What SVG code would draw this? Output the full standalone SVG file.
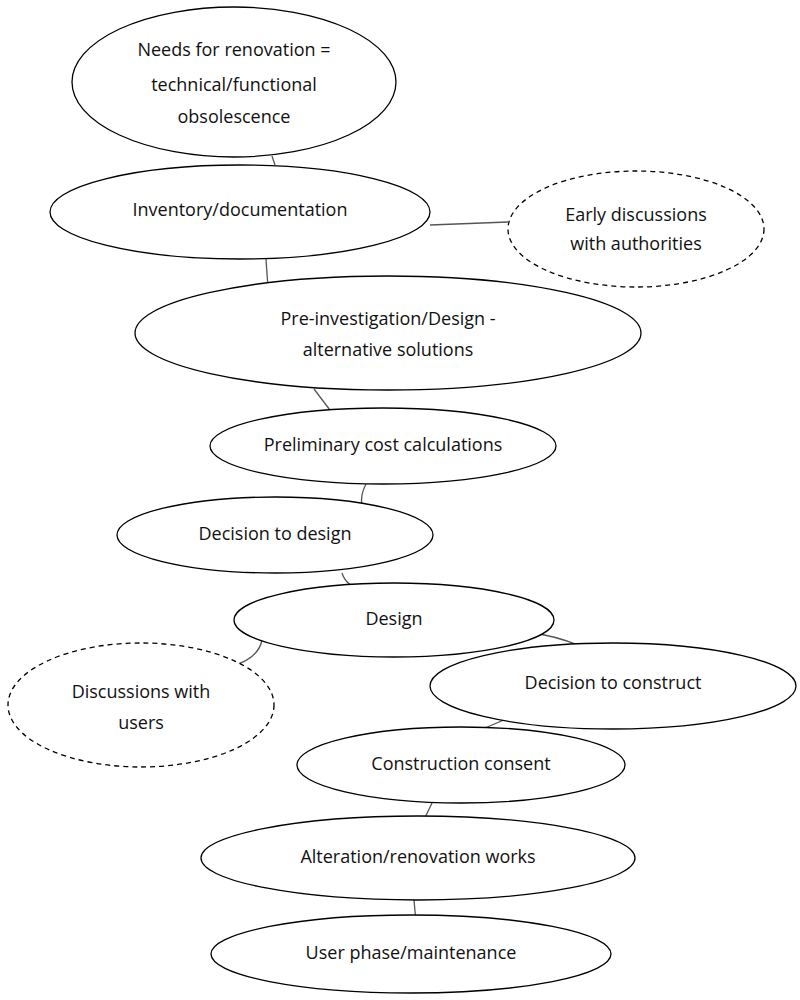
<svg xmlns="http://www.w3.org/2000/svg" width="800" height="1000" viewBox="0 0 800 1000">
<style>
.n{fill:#fff;stroke:#000;stroke-width:1.3}
.d{fill:#fff;stroke:#000;stroke-width:1.3;stroke-dasharray:5,4}
.c{fill:none;stroke:#555;stroke-width:1.3}
text{font-family:"Open Sans","Liberation Sans",sans-serif;font-size:18px;fill:#111;text-anchor:middle}
</style>
<rect width="800" height="1000" fill="#fff"/>
<g id="connectors">
<path class="c" d="M272,156 L275,165"/>
<path class="c" d="M430,225 L508,222"/>
<path class="c" d="M266,259 L268,288"/>
<path class="c" d="M314,389 L336,418"/>
<path class="c" d="M366,484 Q360,495 362,506"/>
<path class="c" d="M342,573 Q346,586 362,590"/>
<path class="c" d="M540,634 Q570,640 588,650"/>
<path class="c" d="M262,640 Q258,660 228,667"/>
<path class="c" d="M518,714 L485,728"/>
<path class="c" d="M432,803 L420,828"/>
<path class="c" d="M414,900 L417,934"/>
</g>
<g id="n1"><ellipse class="n" cx="234" cy="82" rx="162" ry="75"/><text x="234" y="56">Needs for renovation =</text><text x="234" y="91">technical/functional</text><text x="234" y="123">obsolescence</text></g>
<g id="n2"><ellipse class="n" cx="240" cy="212" rx="190" ry="47"/><text x="240" y="216">Inventory/documentation</text></g>
<g id="n3"><ellipse class="d" cx="636" cy="229" rx="128" ry="58"/><text x="636" y="221">Early discussions</text><text x="636" y="250">with authorities</text></g>
<g id="n4"><ellipse class="n" cx="388" cy="333" rx="253" ry="57"/><text x="388" y="325">Pre-investigation/Design -</text><text x="388" y="356">alternative solutions</text></g>
<g id="n5"><ellipse class="n" cx="383" cy="446" rx="173" ry="38"/><text x="383" y="451">Preliminary cost calculations</text></g>
<g id="n6"><ellipse class="n" cx="275" cy="535" rx="158" ry="38"/><text x="275" y="540">Decision to design</text></g>
<g id="n7"><ellipse class="n" cx="394" cy="620" rx="160" ry="37"/><text x="394" y="625">Design</text></g>
<g id="n8"><ellipse class="d" cx="141" cy="705" rx="133" ry="62"/><text x="141" y="698">Discussions with</text><text x="141" y="729">users</text></g>
<g id="n9"><ellipse class="n" cx="613" cy="686" rx="183" ry="43"/><text x="613" y="689">Decision to construct</text></g>
<g id="n10"><ellipse class="n" cx="461" cy="765" rx="164" ry="38"/><text x="461" y="770">Construction consent</text></g>
<g id="n11"><ellipse class="n" cx="418" cy="858" rx="217" ry="42"/><text x="418" y="863">Alteration/renovation works</text></g>
<g id="n12"><ellipse class="n" cx="411" cy="954" rx="200" ry="39"/><text x="411" y="959">User phase/maintenance</text></g>
</svg>
